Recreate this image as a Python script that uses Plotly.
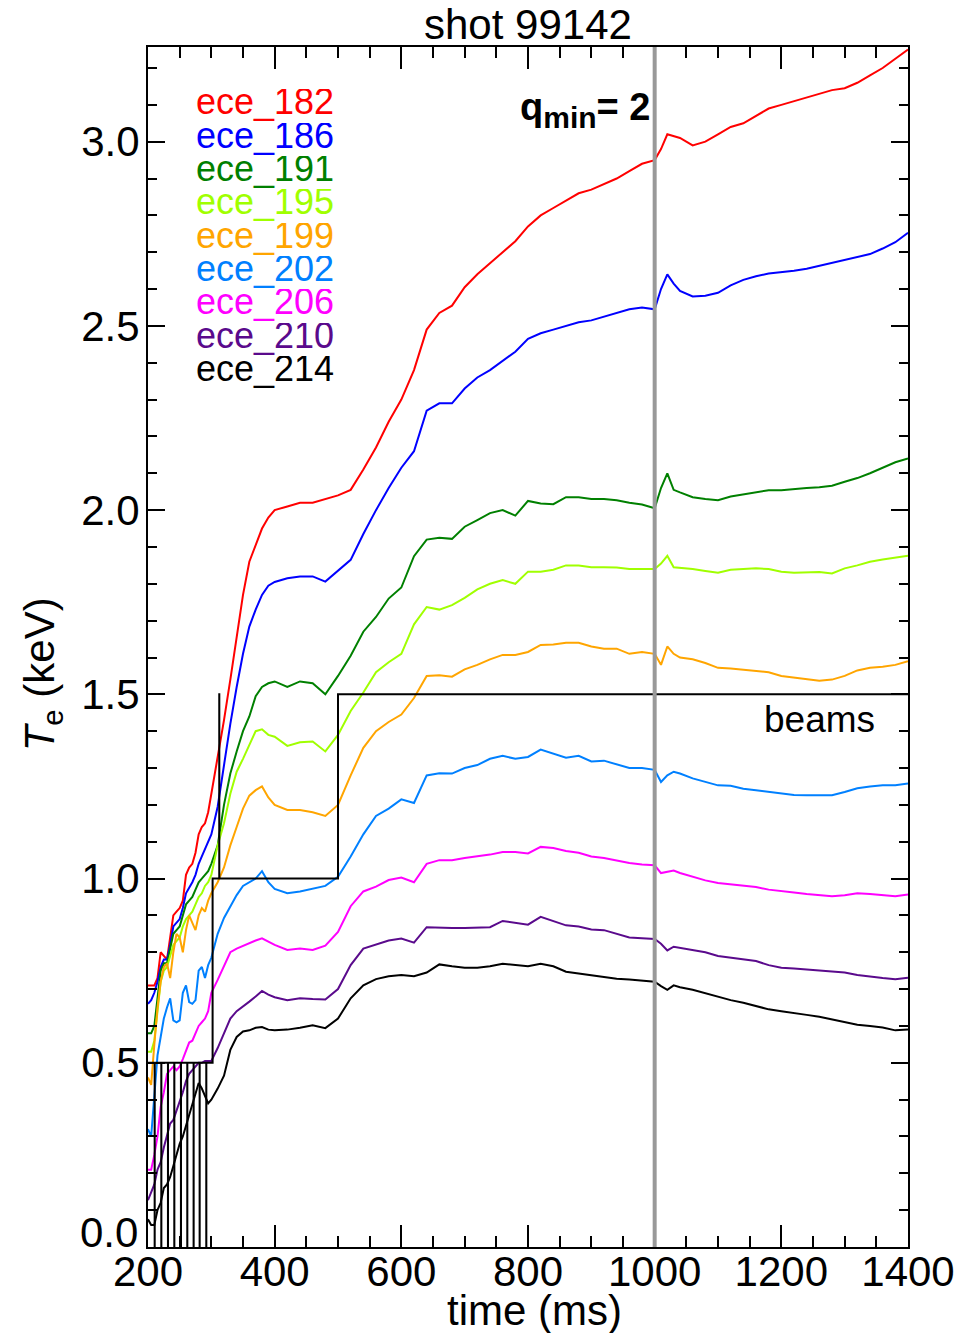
import plotly.graph_objects as go

# Sample times (ms)
time_ms = [200, 205, 210, 215, 220, 225, 230, 235, 240, 245, 250, 255, 260, 265, 270, 275, 280, 285, 290, 295, 300,
           310, 320, 330, 340, 350, 360, 370, 380, 390, 400,
           420, 440, 460, 480, 500, 520, 540, 560, 580, 600,
           620, 640, 660, 680, 700, 720, 740, 760, 780, 800,
           820, 840, 860, 880, 900, 920, 940, 960, 980, 1000,
           1010, 1020, 1030,
           1040, 1060, 1080, 1100, 1120, 1140, 1160, 1180, 1200, 1220, 1240, 1260, 1280, 1300, 1320, 1340, 1360, 1380, 1400]

# Electron temperature per ECE channel (keV)
ece_182 = [0.71, 0.71, 0.71, 0.73, 0.80, 0.79, 0.78, 0.84, 0.90, 0.91, 0.92, 0.94, 1.01, 1.03, 1.04, 1.07, 1.12, 1.14, 1.15, 1.18, 1.23,
           1.32, 1.43, 1.54, 1.65, 1.77, 1.86, 1.905, 1.95, 1.98, 2.00,
           2.01, 2.02, 2.02, 2.03, 2.04, 2.055, 2.11, 2.17, 2.24, 2.30,
           2.38, 2.49, 2.535, 2.555, 2.605, 2.64, 2.67, 2.70, 2.73, 2.77,
           2.80, 2.82, 2.84, 2.86, 2.87, 2.885, 2.90, 2.92, 2.94, 2.95,
           2.98, 3.02, 3.015,
           3.01, 2.99, 3.00, 3.02, 3.04, 3.05, 3.07, 3.09, 3.10, 3.11, 3.12, 3.13, 3.14, 3.145, 3.16, 3.18, 3.20, 3.225, 3.25]
ece_186 = [0.66, 0.67, 0.69, 0.72, 0.76, 0.78, 0.78, 0.82, 0.87, 0.88, 0.89, 0.92, 0.96, 0.975, 0.99, 1.01, 1.04, 1.06, 1.08, 1.10, 1.12,
           1.195, 1.31, 1.42, 1.52, 1.61, 1.684, 1.73, 1.77, 1.795, 1.805,
           1.815, 1.82, 1.82, 1.806, 1.835, 1.865, 1.935, 2.00, 2.06, 2.115,
           2.16, 2.27, 2.29, 2.29, 2.33, 2.36, 2.38, 2.405, 2.43, 2.465,
           2.48, 2.49, 2.50, 2.51, 2.515, 2.525, 2.535, 2.545, 2.55, 2.545,
           2.60, 2.64, 2.615,
           2.595, 2.58, 2.582, 2.59, 2.61, 2.625, 2.635, 2.642, 2.645, 2.65, 2.655, 2.663, 2.67, 2.678, 2.685, 2.695, 2.71, 2.727, 2.753]
ece_191 = [0.58, 0.58, 0.60, 0.68, 0.75, 0.77, 0.77, 0.81, 0.85, 0.86, 0.87, 0.90, 0.93, 0.94, 0.95, 0.97, 0.99, 1.00, 1.01, 1.02, 1.04,
           1.09, 1.20, 1.285, 1.345, 1.40, 1.44, 1.495, 1.52, 1.53, 1.535,
           1.52, 1.535, 1.53, 1.50, 1.55, 1.605, 1.67, 1.71, 1.76, 1.79,
           1.875, 1.92, 1.925, 1.922, 1.955, 1.973, 1.992, 2.00, 1.985, 2.025,
           2.018, 2.016, 2.035, 2.035, 2.03, 2.03, 2.027, 2.02, 2.015, 2.005,
           2.06, 2.10, 2.055,
           2.048, 2.035, 2.03, 2.027, 2.037, 2.042, 2.048, 2.054, 2.054, 2.058, 2.06, 2.062, 2.066, 2.077, 2.087, 2.10, 2.115, 2.13, 2.14]
ece_195 = [0.53, 0.53, 0.56, 0.65, 0.72, 0.75, 0.76, 0.79, 0.82, 0.83, 0.84, 0.87, 0.89, 0.90, 0.91, 0.93, 0.95, 0.96, 0.98, 0.99, 1.01,
           1.09, 1.15, 1.23, 1.29, 1.325, 1.365, 1.40, 1.405, 1.39, 1.385,
           1.36, 1.37, 1.372, 1.345, 1.39, 1.455, 1.505, 1.56, 1.587, 1.61,
           1.69, 1.737, 1.73, 1.742, 1.762, 1.785, 1.80, 1.81, 1.80, 1.833,
           1.833, 1.838, 1.85, 1.85, 1.845, 1.845, 1.844, 1.84, 1.839, 1.84,
           1.855, 1.876, 1.845,
           1.844, 1.84, 1.835, 1.83, 1.838, 1.839, 1.842, 1.84, 1.833, 1.83, 1.83, 1.832, 1.828, 1.842, 1.85, 1.86, 1.866, 1.87, 1.876]
ece_199 = [0.46, 0.44, 0.55, 0.65, 0.72, 0.76, 0.77, 0.73, 0.80, 0.85, 0.84, 0.80, 0.86, 0.90, 0.88, 0.86, 0.90, 0.92, 0.91, 0.94, 0.96,
           0.99, 1.03, 1.09, 1.14, 1.19, 1.225, 1.24, 1.25, 1.22, 1.20,
           1.186, 1.186, 1.18, 1.17, 1.20, 1.28, 1.355, 1.40, 1.425, 1.445,
           1.49, 1.55, 1.552, 1.548, 1.568, 1.58, 1.595, 1.607, 1.607, 1.615,
           1.634, 1.635, 1.64, 1.64, 1.63, 1.624, 1.624, 1.61, 1.615, 1.61,
           1.58, 1.63, 1.61,
           1.60, 1.595, 1.585, 1.572, 1.57, 1.567, 1.565, 1.56, 1.55, 1.545, 1.54, 1.537, 1.54, 1.55, 1.565, 1.572, 1.575, 1.58, 1.59]
ece_202 = [0.32, 0.30, 0.41, 0.52, 0.57, 0.62, 0.65, 0.675, 0.615, 0.61, 0.615, 0.69, 0.71, 0.665, 0.66, 0.67, 0.75, 0.76, 0.73, 0.765, 0.785,
           0.85, 0.893, 0.925, 0.955, 0.98, 0.99, 1.00, 1.02, 0.99, 0.972,
           0.96, 0.965, 0.972, 0.98, 1.005, 1.06, 1.12, 1.17, 1.19, 1.215,
           1.205, 1.28, 1.286, 1.285, 1.30, 1.308, 1.325, 1.333, 1.325, 1.33,
           1.35, 1.34, 1.328, 1.333, 1.318, 1.32, 1.31, 1.30, 1.30, 1.295,
           1.262, 1.28, 1.29,
           1.285, 1.272, 1.262, 1.253, 1.252, 1.244, 1.24, 1.235, 1.231, 1.227, 1.226, 1.226, 1.226, 1.235, 1.245, 1.25, 1.253, 1.253, 1.258]
ece_206 = [0.21, 0.21, 0.25, 0.30, 0.38, 0.42, 0.47, 0.48, 0.49, 0.48, 0.49, 0.51, 0.53, 0.555, 0.56, 0.58, 0.60, 0.61, 0.62, 0.64, 0.69,
           0.725, 0.765, 0.80, 0.81, 0.818, 0.824, 0.832, 0.838, 0.828, 0.82,
           0.806, 0.81, 0.806, 0.818, 0.855, 0.925, 0.965, 0.978, 0.996, 1.003,
           0.99, 1.04, 1.05, 1.05, 1.056, 1.06, 1.065, 1.072, 1.072, 1.068,
           1.086, 1.083, 1.075, 1.07, 1.06, 1.056, 1.048, 1.042, 1.038, 1.036,
           1.015, 1.018, 1.022,
           1.015, 1.005, 0.995, 0.988, 0.984, 0.979, 0.977, 0.97, 0.967, 0.962, 0.958, 0.955, 0.952, 0.955, 0.96, 0.958, 0.955, 0.952, 0.957]
ece_210 = [0.127, 0.15, 0.17, 0.21, 0.23, 0.27, 0.30, 0.335, 0.345, 0.37, 0.39, 0.42, 0.45, 0.47, 0.48, 0.49, 0.50, 0.50, 0.505, 0.505, 0.505,
           0.54, 0.58, 0.62, 0.64, 0.652, 0.666, 0.68, 0.695, 0.685, 0.678,
           0.67, 0.675, 0.673, 0.672, 0.70, 0.765, 0.81, 0.822, 0.832, 0.837,
           0.826, 0.868, 0.866, 0.866, 0.866, 0.866, 0.868, 0.885, 0.88, 0.875,
           0.896, 0.885, 0.873, 0.87, 0.862, 0.86, 0.85, 0.84, 0.838, 0.836,
           0.823, 0.805, 0.815,
           0.812, 0.806, 0.80, 0.79, 0.786, 0.78, 0.776, 0.765, 0.758, 0.756, 0.753, 0.752, 0.748, 0.745, 0.738, 0.733, 0.73, 0.727, 0.731]
ece_214 = [0.075, 0.06, 0.06, 0.10, 0.12, 0.16, 0.17, 0.19, 0.22, 0.25, 0.28, 0.30, 0.33, 0.36, 0.39, 0.42, 0.445, 0.43, 0.41, 0.39, 0.40,
           0.43, 0.465, 0.535, 0.57, 0.585, 0.588, 0.595, 0.597, 0.59, 0.588,
           0.59, 0.595, 0.602, 0.594, 0.62, 0.675, 0.71, 0.727, 0.735, 0.738,
           0.735, 0.745, 0.767, 0.762, 0.758, 0.758, 0.762, 0.769, 0.765, 0.762,
           0.769, 0.762, 0.747, 0.742, 0.737, 0.731, 0.728, 0.726, 0.722, 0.72,
           0.708, 0.698, 0.71,
           0.705, 0.698, 0.688, 0.678, 0.67, 0.663, 0.655, 0.645, 0.64, 0.634, 0.63, 0.625, 0.618, 0.61, 0.603, 0.60, 0.596, 0.588, 0.59]

channels = ["ece_182", "ece_186", "ece_191", "ece_195", "ece_199", "ece_202", "ece_206", "ece_210", "ece_214"]
series = [ece_182, ece_186, ece_191, ece_195, ece_199, ece_202, ece_206, ece_210, ece_214]
colors = ["#FF0000", "#0000FF", "#008000", "#A0FF00", "#FFA500", "#0080FF", "#FF00FF", "#5A0A8C", "#000000"]

# Neutral beam waveform (schematic level, drawn as a step trace)
beam_time = [200, 210.5, 210.6, 221.0, 221.1, 231.5, 231.6, 241.5, 241.6, 252.0, 252.1, 262.0, 262.1,
             272.0, 272.1, 281.5, 281.6, 292.0, 292.1, 302.0, 312.5, 312.6, 500.0, 1400.0]
beam_level = [0.5, 0.0, 0.5, 0.0, 0.5, 0.0, 0.5, 0.0, 0.5, 0.0, 0.5, 0.0, 0.5,
              0.0, 0.5, 0.0, 0.5, 0.0, 0.5, 1.0, 1.5, 1.0, 1.5, 1.5]

qmin2_time = 1000

x_ticks = [200, 400, 600, 800, 1000, 1200, 1400]
y_ticks = [0.5, 1.0, 1.5, 2.0, 2.5, 3.0]

FONT = "Liberation Sans, Arial, Helvetica, sans-serif"

fig = go.Figure()
for name, ys, col in zip(channels, series, colors):
    fig.add_trace(go.Scatter(x=time_ms, y=ys, mode="lines", name=name,
                             line=dict(color=col, width=2)))

fig.add_trace(go.Scatter(x=beam_time, y=beam_level, mode="lines", name="beams",
                         line=dict(color="black", width=2, shape="hv")))

# q_min = 2 marker
fig.add_shape(type="line", x0=qmin2_time, x1=qmin2_time, y0=0, y1=1, xref="x", yref="paper",
              line=dict(color="#999999", width=4), layer="above")

# Channel labels, stacked tightly (boxes trimmed to the line pitch)
for i, (name, col) in enumerate(zip(channels, colors)):
    fig.add_annotation(x=274, y=(1246.5 - (106.8 + 33.3 * i)) / 368.0, xref="x", yref="y",
                       text=name, showarrow=False, xanchor="left", yanchor="middle",
                       height=33, valign="bottom", borderpad=0,
                       font=dict(family=FONT, size=36, color=col))

fig.add_annotation(x=995, y=3.085, xref="x", yref="y",
                   text="<b>q<sub><span style='font-size:30px'>min</span></sub>= 2</b>",
                   showarrow=False, xanchor="right", yanchor="middle",
                   font=dict(family=FONT, size=38, color="black"))
fig.add_annotation(x=1351, y=1.432, xref="x", yref="y", text="beams",
                   showarrow=False, xanchor="right", yanchor="middle",
                   font=dict(family=FONT, size=37, color="black"))

# Lowest y label sits slightly above its tick
fig.add_annotation(x=-0.0105, y=0.039, xref="paper", yref="y", text="0.0",
                   showarrow=False, xanchor="right", yanchor="middle",
                   font=dict(family=FONT, size=42, color="black"))

fig.add_annotation(x=0.5, y=1.0187, xref="paper", yref="paper", text="shot 99142",
                   showarrow=False, xanchor="center", yanchor="middle",
                   font=dict(family=FONT, size=42, color="black"))
fig.add_annotation(x=0.509, y=-0.0525, xref="paper", yref="paper", text="time (ms)",
                   showarrow=False, xanchor="center", yanchor="middle",
                   font=dict(family=FONT, size=42, color="black"))
fig.add_annotation(x=-0.139, y=0.4775, xref="paper", yref="paper",
                   text="<i>T</i><sub>e</sub> (keV)", textangle=-90,
                   showarrow=False, xanchor="center", yanchor="middle",
                   font=dict(family=FONT, size=42, color="black"))

axis_common = dict(showline=True, linewidth=2, linecolor="black", mirror="allticks",
                   ticks="inside", tickwidth=2, tickcolor="black", showgrid=False,
                   zeroline=False, tickfont=dict(family=FONT, size=42, color="black"))

fig.update_xaxes(range=[200, 1400], tickvals=x_ticks, ticktext=[str(v) for v in x_ticks],
                 ticklen=22, ticklabelstandoff=-13,
                 minor=dict(dtick=50, tick0=200, ticklen=11, tickwidth=2, ticks="inside",
                            tickcolor="black", showgrid=False),
                 **axis_common)
fig.update_yaxes(range=[0, 3.257], tickvals=y_ticks, ticktext=[f"{v:.1f}" for v in y_ticks],
                 ticklen=17, ticklabelstandoff=-2,
                 minor=dict(dtick=0.1, tick0=0, ticklen=9, tickwidth=2, ticks="inside",
                            tickcolor="black", showgrid=False),
                 **axis_common)

fig.update_layout(width=967, height=1333, autosize=False,
                  margin=dict(l=148, r=57, t=47, b=86, pad=0),
                  paper_bgcolor="white", plot_bgcolor="white", showlegend=False,
                  font=dict(family=FONT, size=42, color="black"))

fig.write_html("out.html")
